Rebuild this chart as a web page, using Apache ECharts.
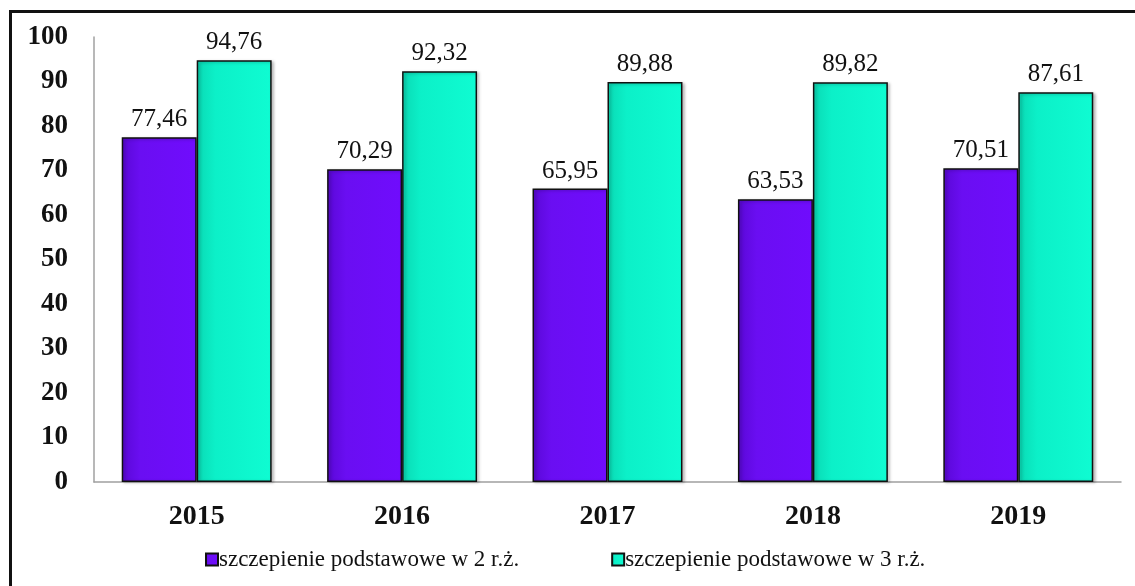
<!DOCTYPE html>
<html>
<head>
<meta charset="utf-8">
<script src="https://cdn.jsdelivr.net/npm/echarts@6/dist/echarts.min.js"></script>
<style>
html,body{margin:0;padding:0;background:#fff;overflow:hidden;}
#wrap{position:relative;width:1135px;height:586px;overflow:hidden;}
#frame{position:absolute;left:9px;top:10px;width:1300px;height:800px;border:3px solid #111;box-sizing:border-box;}
#chart{position:absolute;left:0;top:0;width:1135px;height:586px;}
</style>
</head>
<body>
<div id="wrap"><div id="frame"></div><div id="chart"></div></div>
<script>
const categories = ['2015', '2016', '2017', '2018', '2019'];
const seriesNames = ['szczepienie podstawowe w 2 r.ż.', 'szczepienie podstawowe w 3 r.ż.'];
const values2 = [77.46, 70.29, 65.95, 63.53, 70.51];
const values3 = [94.76, 92.32, 89.88, 89.82, 87.61];
const yTicks = [0, 10, 20, 30, 40, 50, 60, 70, 80, 90, 100];

const serif = '"Liberation Serif", "Times New Roman", serif';
function grad(dark, mid, light) {
  return new echarts.graphic.LinearGradient(0, 0, 1, 0, [
    {offset: 0, color: dark}, {offset: 0.25, color: mid}, {offset: 1, color: light}
  ]);
}
const purple = grad('#5a08d6', '#6a0ef2', '#700cfd');
const cyan = grad('#0ad9b4', '#0cf0c8', '#0ffcd2');

const chart = echarts.init(document.getElementById('chart'), null, {renderer: 'canvas'});
const labelCfg = {
  show: true, position: 'top', distance: 5,
  fontFamily: serif, fontSize: 25, color: '#111',
  formatter: p => p.value.toFixed(2).replace('.', ',')
};
chart.setOption({
  animation: false,
  backgroundColor: 'transparent',
  grid: {left: 94, right: 14, top: 37, bottom: 104, containLabel: false},
  legend: {
    bottom: 10, left: 200,
    itemWidth: 12, itemHeight: 12, itemGap: 92,
    icon: 'rect',
    textStyle: {fontFamily: serif, fontSize: 23, color: '#111', padding: [0, 0, 0, -4]},
    data: seriesNames
  },
  xAxis: {
    type: 'category', data: categories,
    axisLine: {lineStyle: {color: '#a0a0a0', width: 1.5}},
    axisTick: {show: false},
    axisLabel: {margin: 21, fontFamily: serif, fontWeight: 'bold', fontSize: 28, color: '#111'}
  },
  yAxis: {
    type: 'value', min: 0, max: 100, interval: 10,
    axisLine: {show: true, lineStyle: {color: '#a0a0a0', width: 1.5}},
    axisTick: {show: false},
    splitLine: {show: false},
    axisLabel: {margin: 26, fontFamily: serif, fontWeight: 'bold', fontSize: 27, color: '#111',
      formatter: v => yTicks.includes(v) ? String(v) : ''}
  },
  series: [
    {
      name: seriesNames[0], type: 'bar', data: values2,
      barGap: '0%', barCategoryGap: '27%',
      itemStyle: {color: purple, borderColor: '#111', borderWidth: 1.5,
        shadowColor: 'rgba(0,0,0,0.25)', shadowBlur: 3, shadowOffsetX: 2, shadowOffsetY: 1},
      label: labelCfg
    },
    {
      name: seriesNames[1], type: 'bar', data: values3,
      barGap: '0%', barCategoryGap: '27%',
      itemStyle: {color: cyan, borderColor: '#111', borderWidth: 1.5,
        shadowColor: 'rgba(0,0,0,0.25)', shadowBlur: 3, shadowOffsetX: 2, shadowOffsetY: 1},
      label: labelCfg
    }
  ]
});
</script>
</body>
</html>
